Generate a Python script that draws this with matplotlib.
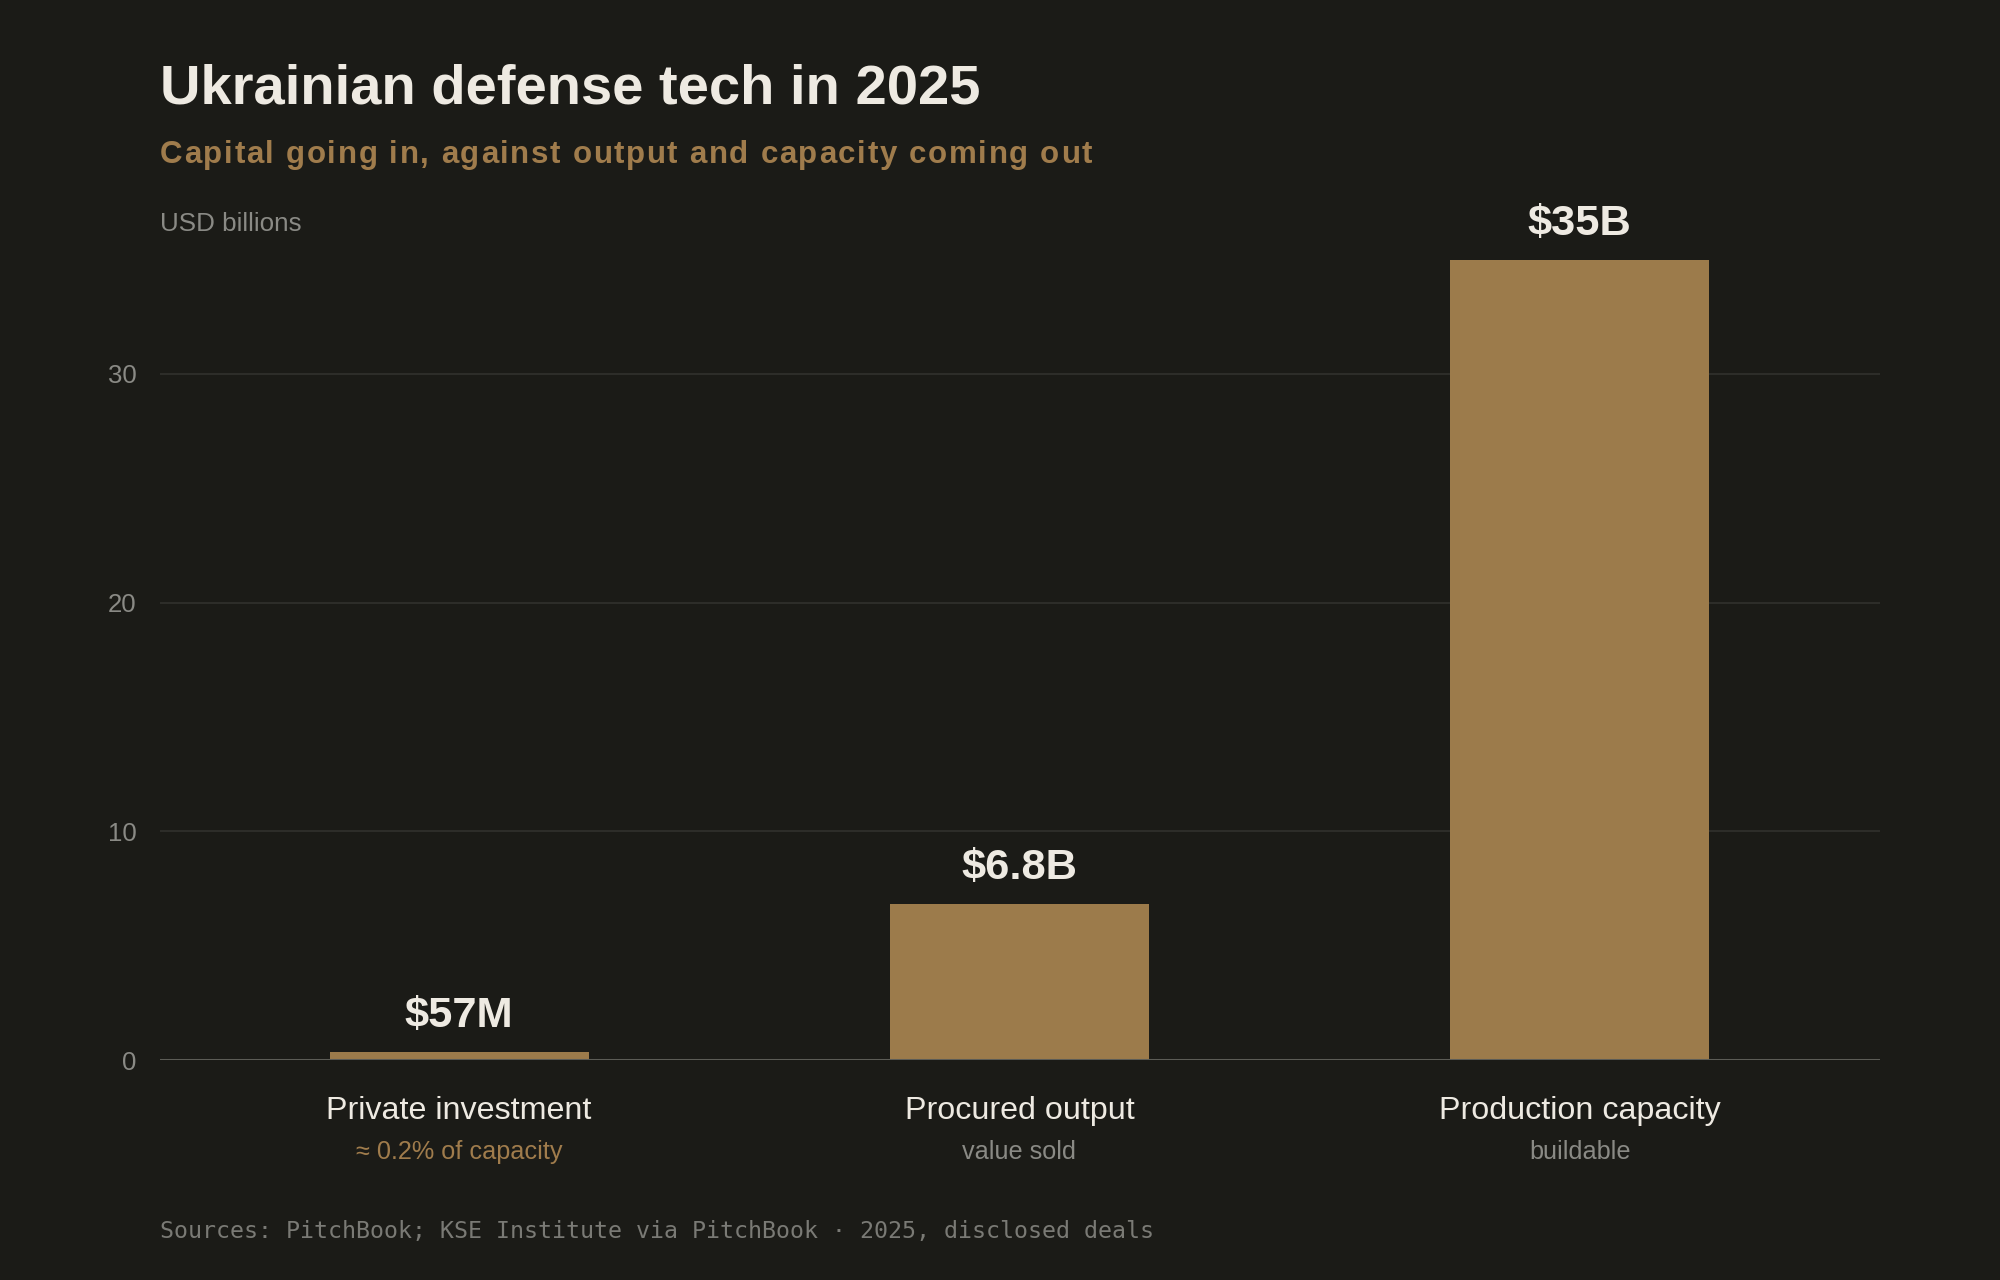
import matplotlib
matplotlib.use('Agg')
import matplotlib.pyplot as plt

# data (USD billions)
categories = ['Private investment', 'Procured output', 'Production capacity']
sublabels = ['\u2248 0.2% of capacity', 'value sold', 'buildable']
values = [0.057, 6.8, 35]
value_labels = ['$57M', '$6.8B', '$35B']
yticks = [0, 10, 20, 30]

BG = '#1b1b17'
BAR = '#9c7b4b'
GOLD = '#a07c4c'
LIGHT = '#eeeae2'
GREY = '#8a8a85'
GRID = '#2e2e2a'
BASE = '#5c5c56'

plt.rcParams['font.family'] = ['Liberation Sans', 'DejaVu Sans']


def spaced_text(fig, x, y, s, total_px, **kw):
    # draws s char by char so the whole line spans total_px pixels
    r = fig.canvas.get_renderer()

    def width(txt):
        t = fig.text(0, 0, txt, **kw)
        w = t.get_window_extent(r).width
        t.remove()
        return w

    ref = width('.')
    adv = [width(s[:k] + '.') - ref for k in range(len(s))]
    adv[0] = 0
    natural = width(s)
    extra = (total_px - natural) / (len(s) - 1)
    W = fig.get_figwidth() * fig.dpi
    for k, ch in enumerate(s):
        if ch == ' ':
            continue
        fig.text(x + (adv[k] + k * extra) / W, y, ch, **kw)


def main():
    fig = plt.figure(figsize=(20, 12.8), dpi=100, facecolor=BG)
    ax = fig.add_axes([0.08, 0.171875, 0.86, 0.6789])
    ax.set_facecolor(BG)

    # tiny values get a minimum visible bar height
    shown = [max(v, 0.35) for v in values]
    x = list(range(len(categories)))
    ax.bar(x, shown, width=0.4625, color=BAR, zorder=3)

    ax.set_xlim(-0.534, 2.536)
    ax.set_ylim(0, 38)

    ax.set_yticks(yticks)
    ax.set_yticklabels([str(t) for t in yticks])
    ax.tick_params(axis='y', length=0, pad=17, labelsize=18.5, labelcolor=GREY)
    ax.set_xticks([])
    for t in yticks[1:]:
        ax.axhline(t, color=GRID, linewidth=1.4, zorder=1)
    ax.axhline(0, color=BASE, linewidth=2.2, zorder=4)
    for s in ax.spines.values():
        s.set_visible(False)

    for i in x:
        ax.annotate(value_labels[i], xy=(i, shown[i]), xytext=(0, 18),
                    textcoords='offset points', ha='center', va='baseline',
                    fontsize=31.2, fontweight='bold', color=LIGHT, zorder=5)
        ax.annotate(categories[i], xy=(i, 0), xycoords=('data', 'axes fraction'),
                    xytext=(0, -42.5), textcoords='offset points',
                    ha='center', va='baseline', fontsize=23.2, color=LIGHT,
                    annotation_clip=False)
        ax.annotate(sublabels[i], xy=(i, 0), xycoords=('data', 'axes fraction'),
                    xytext=(0, -71.3), textcoords='offset points',
                    ha='center', va='baseline', fontsize=18.2,
                    color=GOLD if i == 0 else GREY, annotation_clip=False)

    fig.text(0.08, 1 - 103 / 1280, 'Ukrainian defense tech in 2025',
             fontsize=40.4, fontweight='bold', color=LIGHT, va='baseline')
    spaced_text(fig, 0.08, 1 - 163 / 1280,
                'Capital going in, against output and capacity coming out', 932,
                fontsize=22.5, fontweight='bold', color=GOLD, va='baseline')
    fig.text(0.08, 1 - 231 / 1280, 'USD billions', fontsize=18.7, color=GREY,
             va='baseline')
    fig.text(0.08, 1 - 1238 / 1280,
             'Sources: PitchBook; KSE Institute via PitchBook \u00b7 2025, disclosed deals',
             fontsize=16.75, color='#7a7a75', family='DejaVu Sans Mono', va='baseline')

    fig.savefig('out.png', dpi=100, facecolor=BG)


if __name__ == '__main__':
    main()
